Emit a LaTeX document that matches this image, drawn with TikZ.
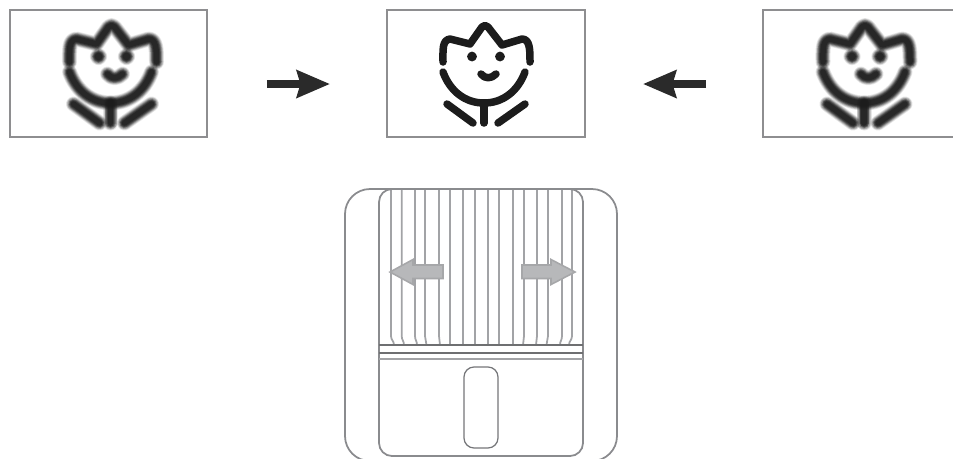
\documentclass[tikz,border=0pt]{standalone}
\usepackage{xcolor}
\usetikzlibrary{arrows.meta}
\definecolor{flowerink}{HTML}{1C1C1C}
\definecolor{panelgray}{HTML}{8E8E90}
\definecolor{arrowink}{HTML}{2A2A2A}
\definecolor{grilline}{HTML}{A2A3A6}
\definecolor{bodyline}{HTML}{8A8B8E}
\definecolor{hintfill}{HTML}{B7B8BA}
\definecolor{hintline}{HTML}{A6A7A9}
\tikzset{
    panel/.style={draw=panelgray, line width=1.5pt, minimum height=2.54cm, inner sep=0pt, outer sep=0pt},
    flowarrow/.style={draw=arrowink, line width=0.15cm, -{Stealth[length=0.66cm, width=0.54cm, inset=0.07cm]}},
    petal/.style={draw=flowerink, line cap=round, line join=round}
}
\newcommand{\flowerbody}[1]{
    \draw[petal, #1] (443,62) .. controls (443,50) and (442,40) .. (450,39) -- (470,44)
        -- (482,27) .. controls (484,25) and (486,25) .. (488,27) -- (502,45) -- (522,39)
        .. controls (530,39) and (530,50) .. (530,62);
    \draw[petal, #1] (443,72) .. controls (450,91) and (465,103) .. (484,103)
        .. controls (503,103) and (518,91) .. (525,72);
    \draw[petal, #1] (484,103) -- (484,123);
    \draw[petal, #1] (447,104) -- (473,123);
    \draw[petal, #1] (525,104) -- (498,123);
    \draw[petal, #1] (472,56.5) circle (1.2);
    \draw[petal, #1] (500,56.5) circle (1.2);
    \draw[petal, #1] (481,74) .. controls (485,79) and (491,79) .. (496,74);
}
\newcommand{\blurflower}{
    \foreach \bw/\bo in {15/.10, 13.5/.16, 12/.22, 10.5/.3, 9/.38, 7.5/.48, 5.5/.6}{
        \flowerbody{line width=\bw*0.02cm, opacity=\bo}
    }
}
\begin{document}
\begin{tikzpicture}[x=0.02cm, y=-0.02cm]
    \useasboundingbox (0,0) rectangle (953,458);
    \clip (0,0) rectangle (953,458);
    \fill[white] (0,0) rectangle (953,458);

    \node[panel, minimum width=3.94cm] (blurleft) at (108.5,73.5) {};
    \node[panel, minimum width=3.96cm] (sharpmid) at (486,73.5) {};
    \node[panel, minimum width=3.94cm] (blurright) at (861.5,73.5) {};

    \begin{scope}[shift={(-373.5,0)}]
        \blurflower
    \end{scope}
    \flowerbody{line width=0.15cm}
    \begin{scope}[shift={(380,0)}]
        \blurflower
    \end{scope}

    \draw[flowarrow, shorten <=1.2cm, shorten >=1.14cm] ([yshift=-0.21cm]blurleft.east) -- ([yshift=-0.21cm]sharpmid.west);
    \draw[flowarrow, shorten <=1.14cm, shorten >=1.16cm] ([yshift=-0.21cm]blurright.west) -- ([yshift=-0.21cm]sharpmid.east);

    \foreach \gx/\gb in {391/394, 401.7/404, 415/417, 425/426.5, 439/440, 450/450, 463/463, 475/475,
                         488/488, 499/499, 513/513, 524/523, 537/536, 548/546.5, 562/560, 572/569}{
        \draw[grilline, line width=1pt] (\gx,189) -- (\gx,336) .. controls (\gx,340) and (\gb,341) .. (\gb,345);
    }
    \draw[bodyline, line width=1pt, rounded corners=0.5cm] (345,189) rectangle (617,461);
    \draw[bodyline, line width=1pt, rounded corners=0.26cm] (379,189) rectangle (583,456);
    \draw[bodyline!80!black, line width=0.8pt] (379,345) -- (583,345);
    \draw[bodyline!80!black, line width=0.8pt] (379,353) -- (583,353);
    \draw[grilline, line width=1.2pt] (379,359) -- (583,359);
    \draw[bodyline!85!black, line width=0.7pt, rounded corners=0.2cm] (464,367) rectangle (498,448);

    \filldraw[fill=hintfill, draw=hintline, line width=0.9pt, line join=miter]
        (390,272) -- (413,259.5) -- (413,265) -- (443,265) -- (443,278.5) -- (413,278.5) -- (413,284.5) -- cycle;
    \filldraw[fill=hintfill, draw=hintline, line width=0.9pt, line join=miter]
        (575,272) -- (551,259.5) -- (551,265) -- (522,265) -- (522,278.5) -- (551,278.5) -- (551,284.5) -- cycle;
\end{tikzpicture}
\end{document}
